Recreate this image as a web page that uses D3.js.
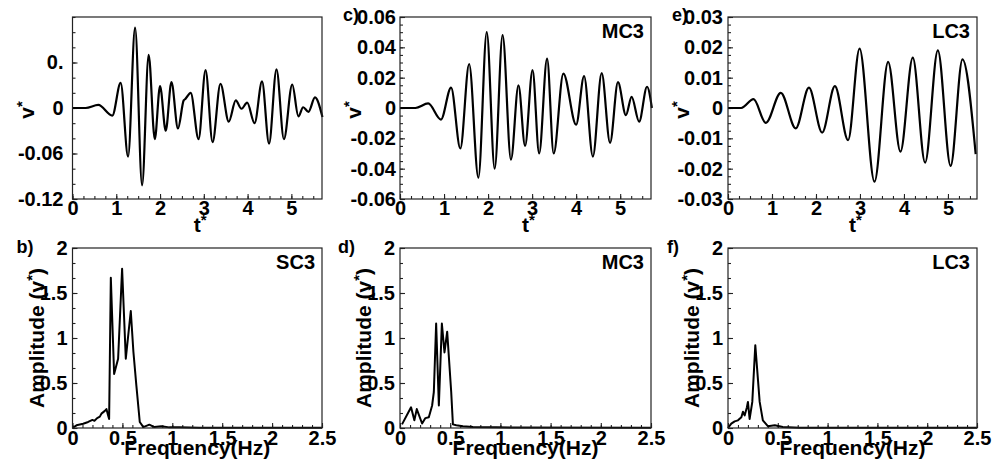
<!DOCTYPE html>
<html>
<head>
<meta charset="utf-8">
<script src="https://cdn.jsdelivr.net/npm/d3@7"></script>
<style>
  body { margin: 0; background: #fff; }
  svg text { font-family: "Liberation Sans", Arial, Helvetica, sans-serif; font-weight: bold; fill: #000; }
</style>
</head>
<body>
<svg id="fig" width="995" height="470"></svg>
<script>
// ---- Time histories of v* (SC3, MC3, LC3) ----
const tSC3 = [0, 0.3, 0.59, 0.91, 1.10, 1.27, 1.43, 1.59, 1.74, 1.88, 2.00, 2.13, 2.26, 2.41, 2.54, 2.58, 2.70, 2.88, 3.04, 3.20, 3.38, 3.57, 3.73, 3.86, 3.99, 4.16, 4.33, 4.49, 4.66, 4.83, 5.02, 5.16, 5.27, 5.39, 5.54, 5.71];
const vSC3 = [0, 0, 0.004, -0.010, 0.033, -0.064, 0.106, -0.102, 0.070, -0.041, 0.029, -0.030, 0.034, -0.027, 0.010, 0.012, 0.020, -0.041, 0.050, -0.045, 0.032, -0.018, 0.010, -0.001, 0.007, -0.020, 0.035, -0.047, 0.051, -0.041, 0.031, -0.011, 0.001, -0.005, 0.014, -0.012];

const tMC3 = [0, 0.35, 0.64, 0.93, 1.16, 1.37, 1.57, 1.78, 1.97, 2.15, 2.33, 2.52, 2.69, 2.84, 3.01, 3.16, 3.34, 3.49, 3.71, 4.00, 4.18, 4.38, 4.58, 4.77, 4.95, 5.13, 5.26, 5.43, 5.61, 5.72];
const vMC3 = [0, 0, 0.003, -0.0076, 0.0135, -0.0267, 0.029, -0.046, 0.050, -0.040, 0.048, -0.034, 0.015, -0.025, 0.025, -0.030, 0.0326, -0.030, 0.0227, -0.011, 0.021, -0.032, 0.023, -0.023, 0.017, -0.0047, 0.0073, -0.009, 0.014, 0];

const tLC3 = [0, 0.3, 0.58, 0.86, 1.20, 1.54, 1.84, 2.14, 2.43, 2.73, 2.99, 3.33, 3.64, 3.92, 4.20, 4.48, 4.77, 5.06, 5.33, 5.63];
const vLC3 = [0, 0, 0.0029, -0.0049, 0.0050, -0.0067, 0.0067, -0.0081, 0.0072, -0.0106, 0.0196, -0.0243, 0.0152, -0.0144, 0.0166, -0.018, 0.019, -0.0191, 0.016, -0.0152];

// ---- Amplitude spectra ----
const fSC3 = [0, 0.04, 0.107, 0.157, 0.20, 0.22, 0.247, 0.274, 0.29, 0.324, 0.34, 0.357, 0.367, 0.384, 0.417, 0.457, 0.497, 0.534, 0.584, 0.61, 0.64, 0.674, 0.71, 0.77, 0.82, 0.89, 0.97, 1.07, 1.27, 1.6, 2.5];
const aSC3 = [0, 0.03, 0.048, 0.067, 0.09, 0.08, 0.11, 0.126, 0.16, 0.19, 0.21, 0.14, 0.10, 1.67, 0.60, 0.77, 1.77, 0.77, 1.30, 0.85, 0.47, 0.067, 0.01, 0.037, 0.01, 0.02, 0.007, 0.007, 0.004, 0.004, 0.002];

const fMC3 = [0.02, 0.11, 0.143, 0.167, 0.22, 0.253, 0.287, 0.32, 0.337, 0.36, 0.387, 0.417, 0.443, 0.47, 0.51, 0.527, 0.56, 0.627, 0.727, 0.96, 2.5];
const aMC3 = [0.04, 0.23, 0.085, 0.21, 0.05, 0.11, 0.12, 0.25, 0.40, 1.16, 0.25, 1.16, 0.84, 1.07, 0.40, 0.04, 0.03, 0.02, 0.01, 0.007, 0.003];

const fLC3 = [0, 0.033, 0.067, 0.10, 0.134, 0.15, 0.167, 0.19, 0.20, 0.217, 0.244, 0.274, 0.318, 0.35, 0.40, 0.47, 0.55, 0.72, 2.5];
const aLC3 = [0, 0.048, 0.074, 0.085, 0.12, 0.18, 0.14, 0.23, 0.29, 0.10, 0.29, 0.92, 0.29, 0.085, 0.02, 0.03, 0.01, 0.004, 0.002];

// ---- Tick values and labels ----
const timeTicks = [0, 1, 2, 3, 4, 5];
const timeTickLabels = ["0", "1", "2", "3", "4", "5"];
const freqTicks = [0, 0.5, 1, 1.5, 2, 2.5];
const freqTickLabels = ["0", "0.5", "1", "1.5", "2", "2.5"];
const ampTicks = [0, 0.5, 1, 1.5, 2];
const ampTickLabels = ["0", "0.5", "1", "1.5", "2"];
const vTicksSC3 = [-0.12, -0.06, 0, 0.06];
const vTickLabelsSC3 = ["-0.12", "-0.06", "0", "0."];
const vTicksMC3 = [-0.06, -0.04, -0.02, 0, 0.02, 0.04, 0.06];
const vTickLabelsMC3 = ["-0.06", "-0.04", "-0.02", "0", "0.02", "0.04", "0.06"];
const vTicksLC3 = [-0.03, -0.02, -0.01, 0, 0.01, 0.02, 0.03];
const vTickLabelsLC3 = ["-0.03", "-0.02", "-0.01", "0", "0.01", "0.02", "0.03"];

const svg = d3.select("#fig");
const FONT = 20;

const cols = [[72.5, 322], [400, 651], [728, 977]];
const rows = { top: [17, 199], bottom: [248, 428] };

function range(a, b, step) {
  const out = [];
  for (let k = 0; a + k * step <= b + 1e-9; k++) out.push(+(a + k * step).toFixed(6));
  return out;
}

const panels = [
  { col: 0, row: "top", letter: "", name: "", xs: tSC3, ys: vSC3, xDom: [0, 5.7], yDom: [-0.12, 0.12],
    xT: timeTicks, xL: timeTickLabels, xMinor: 0.25, yT: vTicksSC3, yL: vTickLabelsSC3, yMinor: 0.02, yGap: 9 },
  { col: 1, row: "top", letter: "c)", lx: -57, name: "MC3", xs: tMC3, ys: vMC3, xDom: [0, 5.7], yDom: [-0.06, 0.06],
    xT: timeTicks, xL: timeTickLabels, xMinor: 0.25, yT: vTicksMC3, yL: vTickLabelsMC3, yMinor: 0.005, yGap: 4 },
  { col: 2, row: "top", letter: "e)", lx: -56, name: "LC3", xs: tLC3, ys: vLC3, xDom: [0, 5.66], yDom: [-0.03, 0.03],
    xT: timeTicks, xL: timeTickLabels, xMinor: 0.25, yT: vTicksLC3, yL: vTickLabelsLC3, yMinor: 0.0025, yGap: 5 },
  { col: 0, row: "bottom", letter: "b)", lx: -56, name: "SC3", xs: fSC3, ys: aSC3, xDom: [0, 2.5], yDom: [0, 2],
    xT: freqTicks, xL: freqTickLabels, xMinor: 0.1, yT: ampTicks, yL: ampTickLabels, yMinor: 0.5 / 3, yGap: 5 },
  { col: 1, row: "bottom", letter: "d)", lx: -62, name: "MC3", xs: fMC3, ys: aMC3, xDom: [0, 2.5], yDom: [0, 2],
    xT: freqTicks, xL: freqTickLabels, xMinor: 0.1, yT: ampTicks, yL: ampTickLabels, yMinor: 0.5 / 3, yGap: 5 },
  { col: 2, row: "bottom", letter: "f)", lx: -61, name: "LC3", xs: fLC3, ys: aLC3, xDom: [0, 2.5], yDom: [0, 2],
    xT: freqTicks, xL: freqTickLabels, xMinor: 0.1, yT: ampTicks, yL: ampTickLabels, yMinor: 0.5 / 3, yGap: 5 }
];

panels.forEach(p => {
  const [x0, x1] = cols[p.col];
  const [y0, y1] = rows[p.row];
  const isTop = p.row === "top";
  const x = d3.scaleLinear().domain(p.xDom).range([x0, x1]);
  const y = d3.scaleLinear().domain(p.yDom).range([y1, y0]);
  const g = svg.append("g");

  // minor ticks (inward)
  g.append("g").attr("transform", `translate(${x0},0)`)
    .call(d3.axisLeft(y).tickValues(range(p.yDom[0], p.yDom[1], p.yMinor)).tickSizeInner(-3).tickSizeOuter(0).tickFormat(""))
    .call(a => a.select(".domain").remove());
  g.append("g").attr("transform", `translate(0,${y1})`)
    .call(d3.axisBottom(x).tickValues(range(p.xDom[0], p.xDom[1], p.xMinor)).tickSizeInner(-3).tickSizeOuter(0).tickFormat(""))
    .call(a => a.select(".domain").remove());

  // major ticks with labels
  const yAx = g.append("g").attr("transform", `translate(${x0},0)`)
    .call(d3.axisLeft(y).tickValues(p.yT).tickFormat((d, i) => p.yL[i]).tickSizeInner(-5).tickSizeOuter(0).tickPadding(p.yGap));
  yAx.select(".domain").remove();
  const xAx = g.append("g").attr("transform", `translate(0,${y1})`)
    .call(d3.axisBottom(x).tickValues(p.xT).tickFormat((d, i) => p.xL[i]).tickSizeInner(-5).tickSizeOuter(0).tickPadding(isTop ? 2 : 3));
  xAx.select(".domain").remove();
  [yAx, xAx].forEach(a => {
    a.attr("font-family", null).attr("font-size", null);
    a.selectAll("text").style("font-size", FONT + "px").attr("fill", "#000");
  });
  g.selectAll(".tick line").attr("stroke", "#222").attr("stroke-width", 1.1);

  // curve
  const pts = p.xs.map((v, i) => [v, p.ys[i]]);
  const line = d3.line().x(d => x(d[0])).y(d => y(d[1]))
    .curve(isTop ? d3.curveMonotoneX : d3.curveLinear);
  g.append("path").datum(pts).attr("d", line)
    .attr("fill", "none").attr("stroke", "#000")
    .attr("stroke-width", isTop ? 2.2 : 2).attr("stroke-linejoin", "round");

  // frame
  g.append("rect").attr("x", x0).attr("y", y0).attr("width", x1 - x0).attr("height", y1 - y0)
    .attr("fill", "none").attr("stroke", "#222").attr("stroke-width", 1.2);

  // series name
  if (p.name) {
    g.append("text").attr("x", x1 - 7).attr("y", y0 + 21).attr("text-anchor", "end")
      .style("font-size", FONT + "px").text(p.name);
  }
  // panel letter
  if (p.letter) {
    g.append("text").attr("x", x0 + p.lx).attr("y", isTop ? y0 + 4 : y0 + 5)
      .style("font-size", "18px").text(p.letter);
  }

  // axis titles
  const xc = (x0 + x1) / 2, yc = (y0 + y1) / 2;
  if (isTop) {
    const tx = g.append("text").attr("x", xc + 3).attr("y", y1 + 33).attr("text-anchor", "middle")
      .style("font-size", "21px");
    tx.append("tspan").text("t");
    tx.append("tspan").attr("dy", -7).style("font-size", "15px").text("*");
    const ty = g.append("text").attr("transform", `translate(${x0 - 39},${yc + 2}) rotate(-90)`)
      .attr("text-anchor", "middle").style("font-size", "21px");
    ty.append("tspan").text("v");
    ty.append("tspan").attr("dy", -7).style("font-size", "15px").text("*");
  } else {
    g.append("text").attr("x", xc).attr("y", y1 + 27).attr("text-anchor", "middle")
      .style("font-size", "21px").text("Frequency(Hz)");
    const ty = g.append("text").attr("transform", `translate(${x0 - 29},${yc}) rotate(-90)`)
      .attr("text-anchor", "middle").style("font-size", "21px");
    ty.append("tspan").text("Amplitude (v");
    ty.append("tspan").attr("dy", -7).style("font-size", "15px").text("*");
    ty.append("tspan").attr("dy", 7).text(")");
  }
});
</script>
</body>
</html>
